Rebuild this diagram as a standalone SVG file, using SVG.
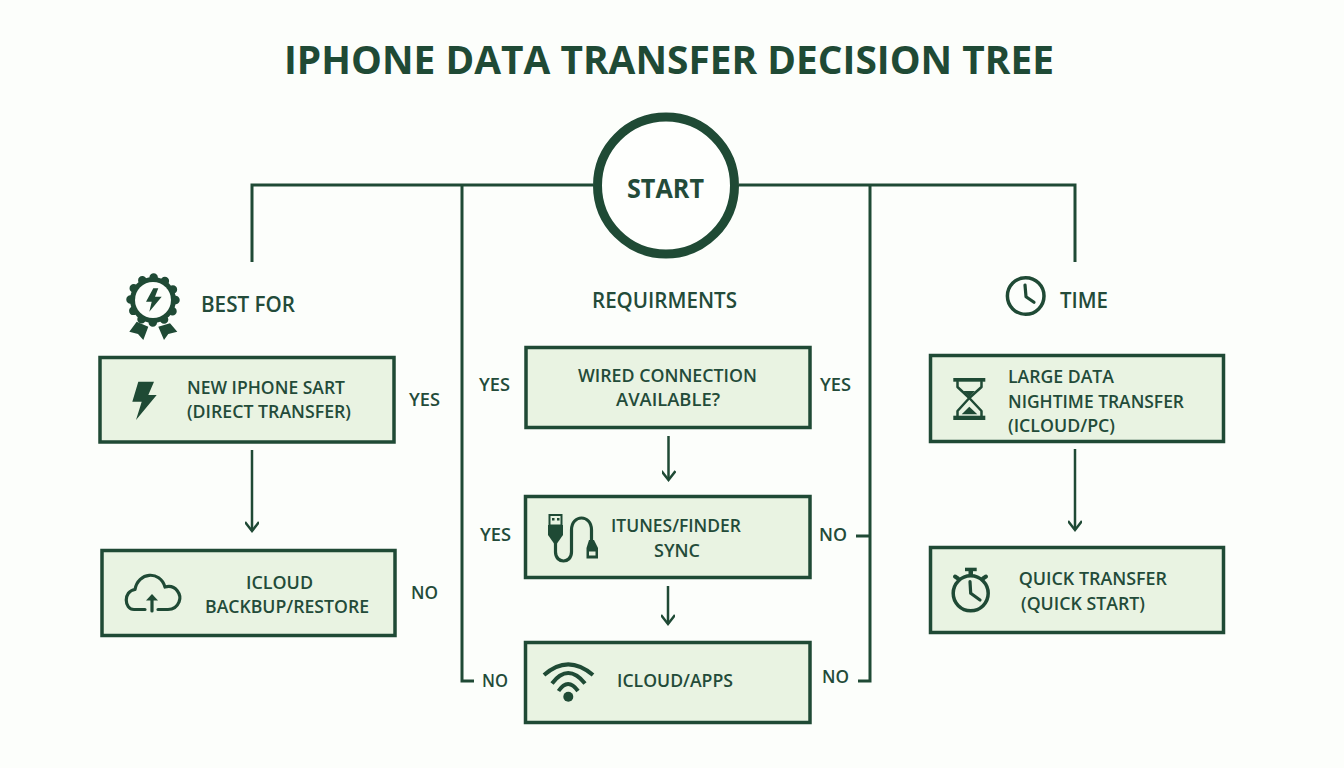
<svg xmlns="http://www.w3.org/2000/svg" width="1344" height="768" viewBox="0 0 1344 768">
<style>
text{font-family:"Open Sans","Liberation Sans",sans-serif;font-weight:600;fill:#234b39;font-size:18.500px}
.title{font-size:39px;font-weight:700;fill:#1f4a35}
.head{font-size:21.500px}
.start{font-size:27px;font-weight:700}
.box{fill:#e9f3e2;stroke:#1f4a35;stroke-width:3.500}
.wire{fill:none;stroke:#1f4a35;stroke-width:3}
.arrow{fill:none;stroke:#1f4a35;stroke-width:2.500;marker-end:url(#chev)}
.ic{fill:none;stroke:#1f4a35;stroke-width:3.200;stroke-linecap:round;stroke-linejoin:round}
.wifi{stroke-width:4;stroke-linecap:butt}
.thin{stroke-width:2.500}
.btn{stroke-width:4}
.d{fill:#1f4a35}
</style>
<defs>
<marker id="chev" markerUnits="userSpaceOnUse" markerWidth="18" markerHeight="14" refX="15" refY="7" orient="auto">
<path d="M6 0L15 7L6 14" fill="none" stroke="#1f4a35" stroke-width="2.500"/>
</marker>
</defs>
<rect width="1344" height="768" fill="#fcfefb"/>
<text id="title" class="title" x="284" y="74" textLength="770" lengthAdjust="spacingAndGlyphs">IPHONE DATA TRANSFER DECISION TREE</text>
<g id="connectors">
<path class="wire" d="M593 185H252V262"/>
<path class="wire" d="M739 185H1075V262"/>
<path class="wire" d="M462 185V681H474"/>
<path class="wire" d="M870 185V681H858"/>
<path class="wire" d="M856 536H870"/>
<path class="arrow" d="M252 450V531"/>
<path class="arrow" d="M668.500 436V480"/>
<path class="arrow" d="M668 586V624"/>
<path class="arrow" d="M1075 449V530"/>
</g>
<g id="start">
<circle cx="666" cy="185.500" r="68.500" fill="#fefffd" stroke="#1f4a35" stroke-width="9"/>
<text class="start" x="627" y="198" textLength="77" lengthAdjust="spacingAndGlyphs">START</text>
</g>
<g id="best-for">
<circle class="d" cx="153" cy="300" r="23"/>
<circle cx="153" cy="300" r="22.500" fill="none" stroke="#1f4a35" stroke-width="8.500" stroke-linecap="round" stroke-dasharray="0 11.781"/>
<circle cx="153" cy="300" r="18" fill="#fcfefb"/>
<polygon class="d" points="153.300,288.300 146,301.700 151.700,301.700 149.300,311.700 161.700,296.700 155,296.700 158.300,288.300"/>
<polygon class="d" points="129.300,331.700 136.700,321.700 148.300,326.700 143.300,340 138,334"/>
<polygon class="d" points="177.300,331.700 170,323.300 158.300,326.700 164,340 168.300,334"/>
<text class="head" x="201" y="312" textLength="94" lengthAdjust="spacingAndGlyphs">BEST FOR</text>
</g>
<g id="new-iphone">
<rect class="box" x="100" y="357.500" width="294" height="84.500"/>
<polygon class="d" points="138.300,381.700 154,381.700 148.300,395 156.700,395 136,420 141.700,401.700 132.300,401.700"/>
<text x="187" y="394" textLength="158" lengthAdjust="spacingAndGlyphs">NEW IPHONE SART</text>
<text x="187" y="418" textLength="164" lengthAdjust="spacingAndGlyphs">(DIRECT TRANSFER)</text>
</g>
<text id="label-yes-1" x="409" y="406" textLength="31" lengthAdjust="spacingAndGlyphs">YES</text>
<g id="icloud-backup">
<rect class="box" x="102" y="550.500" width="293" height="85"/>
<path class="ic" d="M145 609.500H134C124 609.500 123 591 135 589.500C138 572 160 570 165 587C176 584 182 595 179 602C177 607 173 609.500 168 609.500H158"/>
<path class="ic" d="M152 611V597"/>
<polygon class="d" points="146,600.500 152,594 158,600.500"/>
<text x="246" y="589" textLength="67" lengthAdjust="spacingAndGlyphs">ICLOUD</text>
<text x="205" y="613" textLength="164" lengthAdjust="spacingAndGlyphs">BACKBUP/RESTORE</text>
</g>
<text id="label-no-1" x="411" y="599" textLength="27" lengthAdjust="spacingAndGlyphs">NO</text>
<text id="requirements" class="head" x="592" y="308" textLength="145" lengthAdjust="spacingAndGlyphs">REQUIRMENTS</text>
<g id="wired">
<rect class="box" x="526" y="347.500" width="284" height="80"/>
<text x="578" y="382" textLength="179" lengthAdjust="spacingAndGlyphs">WIRED CONNECTION</text>
<text x="616" y="406" textLength="104" lengthAdjust="spacingAndGlyphs">AVAILABLE?</text>
</g>
<text id="label-yes-2" x="479" y="391" textLength="31" lengthAdjust="spacingAndGlyphs">YES</text>
<text id="label-yes-3" x="820" y="391" textLength="31" lengthAdjust="spacingAndGlyphs">YES</text>
<g id="itunes">
<rect class="box" x="525.500" y="496.500" width="284.500" height="81"/>
<rect x="549.500" y="515" width="12" height="10.500" fill="none" stroke="#1f4a35" stroke-width="2"/>
<rect class="d" x="552" y="518" width="2.500" height="2.500"/><rect class="d" x="557" y="518" width="2.500" height="2.500"/>
<polygon class="d" points="548,525 563,525 563,535 557,543.500 554,543.500 548,535"/>
<path class="ic" d="M555.500 543V552C555.500 564 571.500 564 571.500 552V530C571.500 514 591.500 514 591.500 530V541"/>
<polygon class="d" points="589,540 594,540 598,548 598,558.500 586.500,558.500 586.500,548"/>
<rect x="589" y="551.500" width="6.500" height="4" fill="#e9f3e2"/>
<text x="611" y="531.700" textLength="130" lengthAdjust="spacingAndGlyphs">ITUNES/FINDER</text>
<text x="654" y="556.700" textLength="46" lengthAdjust="spacingAndGlyphs">SYNC</text>
</g>
<text id="label-yes-4" x="480" y="540.700" textLength="31" lengthAdjust="spacingAndGlyphs">YES</text>
<text id="label-no-2" x="819" y="541" textLength="28" lengthAdjust="spacingAndGlyphs">NO</text>
<g id="icloud-apps">
<rect class="box" x="525.500" y="642.500" width="284.500" height="80"/>
<path class="ic wifi" d="M544 675Q568 653.600 593 675M552 683.500Q568 662.700 585 683.500M558.500 691Q568 677 578 691"/>
<circle class="d" cx="568.300" cy="696.700" r="5"/>
<text x="617" y="687" textLength="116" lengthAdjust="spacingAndGlyphs">ICLOUD/APPS</text>
</g>
<text id="label-no-3" x="482" y="687" textLength="26" lengthAdjust="spacingAndGlyphs">NO</text>
<text id="label-no-4" x="822" y="683" textLength="27" lengthAdjust="spacingAndGlyphs">NO</text>
<g id="time">
<circle cx="1025.700" cy="296" r="18.300" fill="none" stroke="#1f4a35" stroke-width="3.500"/>
<path class="ic" d="M1025 285L1026 296.700L1034 302.300"/>
<text class="head" x="1060" y="308" textLength="48" lengthAdjust="spacingAndGlyphs">TIME</text>
</g>
<g id="large-data">
<rect class="box" x="930.500" y="355.500" width="293" height="86"/>
<rect class="d" x="953.300" y="378" width="32" height="3.700"/>
<rect class="d" x="953.300" y="415.700" width="32" height="4.300"/>
<path class="ic thin" d="M957.500 381.700V387L969.300 398L957.500 411V415.700M981.500 381.700V387L969.300 398L981.500 411V415.700"/>
<polygon class="d" points="963.300,391 975,391 969.300,396.700"/>
<polygon class="d" points="961.700,414.300 969.300,406.700 977.300,414.300"/>
<text x="1008" y="383" textLength="106" lengthAdjust="spacingAndGlyphs">LARGE DATA</text>
<text x="1008" y="407.700" textLength="176" lengthAdjust="spacingAndGlyphs">NIGHTIME TRANSFER</text>
<text x="1008" y="431.700" textLength="107" lengthAdjust="spacingAndGlyphs">(ICLOUD/PC)</text>
</g>
<g id="quick-transfer">
<rect class="box" x="930.500" y="547.500" width="293" height="85"/>
<circle cx="970.700" cy="593.300" r="17.500" fill="none" stroke="#1f4a35" stroke-width="3.500"/>
<rect class="d" x="965" y="567.700" width="11.700" height="3.500"/>
<rect class="d" x="968.500" y="571" width="4.500" height="4.500"/>
<path class="ic btn" d="M955 576.500L958 578.500M986 576.500L983 578.500"/>
<path class="ic" d="M970 581.700L970.700 593.300L980 600"/>
<text x="1018.700" y="585" textLength="148.300" lengthAdjust="spacingAndGlyphs">QUICK TRANSFER</text>
<text x="1021" y="610" textLength="124" lengthAdjust="spacingAndGlyphs">(QUICK START)</text>
</g>
</svg>
